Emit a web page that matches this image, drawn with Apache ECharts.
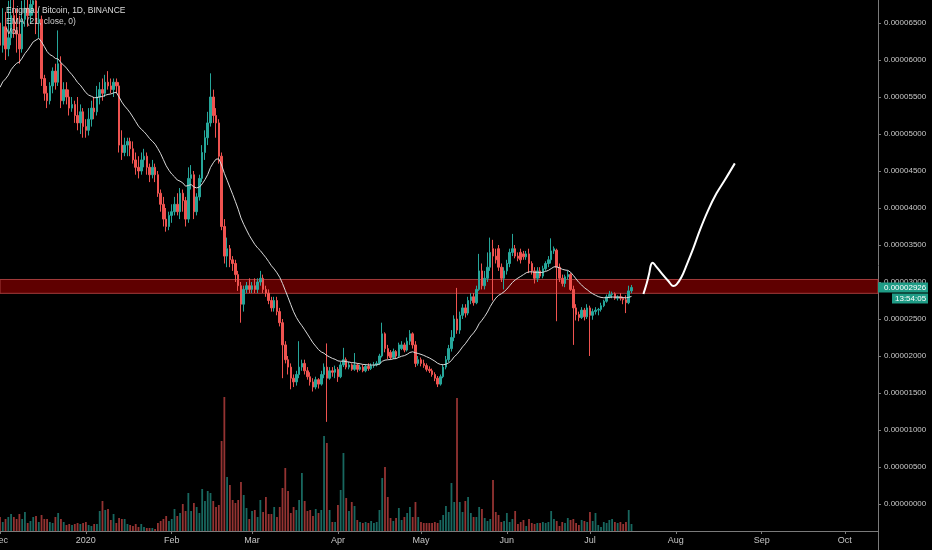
<!DOCTYPE html>
<html><head><meta charset="utf-8">
<script src="https://cdn.jsdelivr.net/npm/echarts@6/dist/echarts.min.js"></script>
<style>html,body{margin:0;padding:0;background:#000;}#c{width:932px;height:550px;}</style>
</head><body><div id="c"></div>
<script>
// Prices in satoshi (1e-8 BTC)
const startDate = '2019-12-01';
const dayCount = 318;
const xTickDates = ['2019-12-01','2020-01-01','2020-02-01','2020-03-01','2020-04-01','2020-05-01','2020-06-01','2020-07-01','2020-08-01','2020-09-01','2020-10-01'];
const xTickLabels = ['Dec','2020','Feb','Mar','Apr','May','Jun','Jul','Aug','Sep','Oct'];
const yTicks = [0,500,1000,1500,2000,2500,3000,3500,4000,4500,5000,5500,6000,6500];

const opens = [
6500,6200,6450,6150,6300,6600,6400,6350,6150,6550,
6700,6600,6750,6800,6500,6550,5750,5550,5450,5650,
5850,5700,5950,5450,5600,5500,5350,5400,5250,5150,
5300,5100,5050,5200,5350,5300,5500,5600,5550,5700,
5650,5600,5700,5650,4850,4750,4850,4900,4800,4650,
4550,4500,4650,4700,4550,4450,4550,4450,4200,4050,
3850,3750,3900,3950,4050,3950,4200,4100,3850,4400,
4450,3950,4150,4400,4750,4950,5150,5500,5250,5150,
4700,3750,3350,3450,3300,3250,3100,2950,2700,2900,
2950,2900,2950,2900,3000,3050,2900,2850,2750,2650,
2750,2600,2450,2150,1950,1850,1700,1650,1750,1850,
1900,1800,1720,1650,1580,1680,1620,1750,1850,1700,
1800,1780,1820,1720,1880,1950,1850,1880,1820,1880,
1820,1850,1800,1860,1830,1870,1880,1900,2000,2300,
2100,2050,1980,2060,2000,2100,2150,2080,2200,2300,
2150,1900,1950,1900,1870,1820,1800,1750,1700,1620,
1720,1850,1950,2100,2250,2500,2350,2550,2650,2580,
2750,2800,2720,2900,3150,2950,3050,3200,3450,3350,
3450,3200,3050,3150,3250,3400,3450,3350,3400,3380,
3340,3380,3250,3150,3050,3150,3080,3180,3250,3300,
3420,3430,3200,3050,2980,3070,3100,2900,2650,2560,
2520,2620,2530,2650,2550,2600,2620,2630,2680,2740,
2800,2830,2840,2780,2800,2780,2760,2720,2880];
const highs = [
6800,6700,6650,6800,6900,6850,6700,6600,6800,6950,
6950,7000,7100,7000,6700,6600,5800,5650,5700,5900,
5950,6400,6050,5700,5700,5600,5500,5450,5500,5400,
5350,5200,5350,5450,5500,5650,5700,5750,5800,5850,
5750,5750,5750,5700,5050,4950,4950,4950,4900,4750,
4700,4750,4800,4750,4600,4650,4600,4500,4250,4150,
4000,3950,4050,4150,4200,4270,4250,4150,4550,4580,
4500,4200,4450,4850,5050,5300,5820,5600,5350,5200,
4750,3850,3600,3500,3350,3300,3150,3000,2950,3000,
3050,3000,3050,3050,3150,3100,2950,2900,2800,2800,
2800,2650,2500,2200,2000,1900,1750,1800,2200,1950,
1950,1850,1780,1700,1720,1700,1800,1900,2170,1850,
1850,1870,1850,1920,2110,1980,1920,1900,2040,1900,
1880,1880,1890,1900,1900,1920,1930,2030,2450,2320,
2150,2080,2100,2080,2180,2200,2180,2250,2350,2320,
2200,2000,1980,1950,1900,1860,1830,1780,1730,1750,
1880,2000,2150,2350,2550,2920,2600,2700,2700,2800,
2850,2850,2950,3380,3250,3150,3400,3600,3570,3450,
3500,3250,3200,3300,3450,3650,3500,3400,3450,3420,
3420,3450,3280,3200,3200,3200,3220,3280,3350,3590,
3480,3450,3250,3100,3100,3150,3120,2950,2700,2600,
2660,2650,2700,2680,2640,2660,2650,2720,2760,2830,
2880,2870,2860,2820,2850,2800,2820,2950,2960];
const lows = [
6050,6100,6000,6050,6200,6300,6100,5950,6100,6450,
6450,6500,6600,6350,6300,5650,5450,5350,5400,5550,
5600,5650,5350,5400,5400,5250,5300,5150,5050,5000,
4950,4950,4980,5100,5200,5250,5400,5450,5500,5600,
5550,5500,5550,4750,4650,4700,4700,4700,4600,4450,
4400,4450,4550,4450,4350,4400,4350,4150,3950,3750,
3680,3700,3800,3900,3900,3850,3950,3750,3800,4250,
3850,3900,4100,4350,4650,4850,5100,5150,4950,4600,
3700,3250,3200,3200,3150,3000,2880,2450,2600,2850,
2850,2850,2850,2850,2950,2850,2800,2700,2600,2600,
2550,2400,1700,1900,1750,1550,1580,1600,1700,1800,
1750,1680,1600,1520,1550,1560,1600,1700,1110,1680,
1720,1700,1650,1700,1850,1820,1820,1800,1800,1780,
1800,1780,1780,1800,1810,1840,1860,1880,1980,2050,
1960,1950,1960,1970,1980,2080,2050,2060,2150,2100,
1850,1870,1860,1840,1790,1770,1720,1660,1580,1600,
1700,1820,1920,2060,2200,2300,2300,2500,2520,2550,
2700,2680,2700,2880,2900,2900,3000,3150,2750,3250,
3150,3000,2900,3100,3200,3350,3320,3280,3250,3300,
3300,3120,3100,2980,3000,3050,3050,3150,3200,3250,
3380,2470,3000,2940,2930,3030,2880,2150,2480,2470,
2500,2480,2500,2000,2490,2560,2550,2600,2660,2720,
2780,2780,2760,2750,2750,2700,2580,2700,2850];
const closes = [
6200,6450,6150,6300,6600,6400,6350,6150,6550,6700,
6600,6750,6800,6500,6550,5750,5550,5450,5650,5850,
5700,5950,5450,5600,5500,5350,5400,5250,5150,5300,
5100,5050,5200,5350,5300,5500,5600,5550,5700,5650,
5600,5700,5650,4850,4750,4850,4900,4800,4650,4550,
4500,4650,4700,4550,4450,4550,4450,4200,4050,3850,
3750,3900,3950,4050,3950,4200,4100,3850,4400,4450,
3950,4150,4400,4750,4950,5150,5500,5250,5150,4700,
3750,3350,3450,3300,3250,3100,2950,2700,2900,2950,
2900,2950,2900,3000,3050,2900,2850,2750,2650,2750,
2600,2450,2150,1950,1850,1700,1650,1750,1850,1900,
1800,1720,1650,1580,1680,1620,1750,1850,1700,1800,
1780,1820,1720,1880,1950,1850,1880,1820,1880,1820,
1850,1800,1860,1830,1870,1880,1900,2000,2300,2100,
2000,1980,2060,2000,2150,2150,2080,2200,2300,2150,
1900,1950,1900,1870,1820,1800,1750,1700,1620,1720,
1850,1950,2100,2250,2500,2350,2550,2650,2580,2750,
2800,2720,2900,3150,2950,3050,3200,3400,3350,3300,
3200,3050,3150,3250,3400,3450,3350,3320,3300,3340,
3380,3250,3150,3050,3150,3080,3180,3250,3300,3420,
3450,3200,3050,2980,3070,3100,2900,2650,2560,2520,
2620,2530,2650,2550,2600,2620,2630,2680,2740,2800,
2830,2840,2780,2800,2780,2760,2720,2880,2926];
const volumes = [
14,9,12,14,17,14,12,17,12,19,
8,10,14,15,9,16,12,12,9,8,
14,18,12,9,6,7,6,7,8,7,
8,9,6,5,7,7,20,30,21,22,
11,17,8,13,12,12,7,6,5,7,
4,7,4,3,3,3,2,8,10,12,
15,10,12,22,15,18,27,20,38,20,
28,24,18,42,30,40,38,30,24,26,
90,134,54,46,31,28,31,49,36,23,
12,20,21,14,31,19,34,17,17,24,
14,24,43,63,40,18,24,21,31,58,
30,20,21,15,22,18,21,95,88,21,
9,9,26,41,78,33,20,29,25,11,
9,8,9,8,10,8,9,21,53,64,
34,13,10,13,23,11,14,18,24,14,
29,14,9,8,8,8,8,9,8,11,
16,25,19,48,29,133,29,19,30,34,
18,14,14,24,22,13,10,12,51,19,
16,9,10,18,9,12,20,7,9,11,
5,12,8,7,8,8,9,8,9,20,
12,10,5,9,8,13,11,12,8,6,
11,10,9,19,10,18,6,4,9,8,
11,12,9,8,9,7,9,21,7];
const emaLength = 21;
const emaStart = 5630;
const zoneLow = 2847;
const zoneHigh = 3034;
// hand-drawn projection (day index from Dec 1, price)
const drawDays = [232.3,233.5,234.4,235.0,235.6,236.5,238.9,241.3,243.1,244.3,246.1,247.9,250.3,252.7,255.7,258.7,261.7,265.3];
const drawPrices = [2837,2982,3117,3229,3260,3229,3117,3013,2945,2968,3071,3229,3454,3702,3972,4198,4378,4603];
const titleLines = ['Enigma / Bitcoin, 1D, BINANCE','EMA (21, close, 0)','Vol'];
const timerText = '13:54:05';

const UP = '#26a69a', DOWN = '#ef5350';
const dates = [];
const t0 = Date.UTC(2019, 11, 1);
for (let i = 0; i < dayCount; i++) dates.push(new Date(t0 + i * 86400000).toISOString().slice(0, 10));

const candles = opens.map((o, i) => [o, closes[i], lows[i], highs[i]]);
const volData = volumes.map((v, i) => ({value: v, itemStyle: {color: closes[i] >= opens[i] ? 'rgba(38,166,154,0.62)' : 'rgba(239,83,80,0.62)'}}));
const k = 2 / (emaLength + 1);
const ema = [];
let e = emaStart;
for (let i = 0; i < closes.length; i++) { if (i > 0) e = e + k * (closes[i] - e); ema.push(Math.round(e)); }
const drawData = drawDays.map((d, i) => [d, drawPrices[i]]);

const chart = echarts.init(document.getElementById('c'), null, {renderer: 'canvas'});
const gridRight = 54, gridBottom = 19;
const option = {
  backgroundColor: '#000',
  animation: false,
  grid: {left: 0, right: gridRight, top: 0, bottom: gridBottom, containLabel: false, outerBoundsMode: 'none'},
  xAxis: [{
    type: 'category', data: dates, boundaryGap: false,
    axisLine: {show: true, onZero: false, lineStyle: {color: '#7a7a7a', width: 1}},
    axisTick: {show: true, length: 3, interval: (i, v) => xTickDates.includes(v), lineStyle: {color: '#7a7a7a'}},
    axisLabel: {interval: (i, v) => xTickDates.includes(v), formatter: v => xTickLabels[xTickDates.indexOf(v)] || '',
      color: '#c4c4c4', fontSize: 9, fontFamily: 'Liberation Sans, Arial, sans-serif', margin: 5},
    splitLine: {show: false}
  }, {
    type: 'value', min: 0, max: dayCount - 1, show: false, axisLine: {onZero: false}
  }],
  yAxis: [{
    type: 'value', position: 'right', min: -365, max: 6811, scale: true,
    axisLine: {show: true, onZero: false, lineStyle: {color: '#7a7a7a', width: 1}},
    axisTick: {show: true, length: 3, customValues: yTicks, lineStyle: {color: '#7a7a7a'}},
    axisLabel: {customValues: yTicks, formatter: v => (v / 1e8).toFixed(8), color: '#c8c8c8', fontSize: 8,
      fontFamily: 'Liberation Sans, Arial, sans-serif', margin: 6},
    splitLine: {show: false}
  }, {
    type: 'value', min: 0, max: 531, show: false, axisLine: {onZero: false}
  }],
  series: [{
    type: 'bar', name: 'Vol', xAxisIndex: 0, yAxisIndex: 1, data: volData, barWidth: 1.8, z: 2
  }, {
    type: 'candlestick', name: 'ENGBTC', xAxisIndex: 0, yAxisIndex: 0, data: candles, barWidth: 2, z: 3,
    itemStyle: {color: UP, color0: DOWN, borderColor: UP, borderColor0: DOWN, borderWidth: 1},
    markArea: {silent: true, z: 1,
      itemStyle: {color: 'rgba(112,0,0,0.85)', borderColor: '#a33a3a', borderWidth: 1},
      data: [[{yAxis: zoneLow}, {yAxis: zoneHigh}]]}
  }, {
    type: 'line', name: 'EMA', xAxisIndex: 0, yAxisIndex: 0, data: ema, symbol: 'none', z: 4,
    lineStyle: {color: '#d9d9d9', width: 1}
  }, {
    type: 'line', name: 'Drawing', xAxisIndex: 1, yAxisIndex: 0, data: drawData, symbol: 'none', smooth: 0.35, z: 5,
    lineStyle: {color: '#ffffff', width: 2}
  }]
};
chart.setOption(option);

const W = chart.getWidth(), H = chart.getHeight();
const axisX = W - gridRight;
const last = closes[closes.length - 1];
const py = chart.convertToPixel({yAxisIndex: 0}, last);
const font = '8px "Liberation Sans", Arial, sans-serif';
chart.setOption({
  graphic: [
    {type: 'line', shape: {x1: axisX + 0.5, y1: H - gridBottom, x2: axisX + 0.5, y2: H}, style: {stroke: '#7a7a7a', lineWidth: 1}, z: 10},
    {type: 'rect', shape: {x: axisX, y: py - 5, width: 50, height: 10}, style: {fill: '#1f9c86'}, z: 20},
    {type: 'text', x: axisX + 6, y: py, style: {text: (last / 1e8).toFixed(8), fill: '#ffffff', font: font, verticalAlign: 'middle'}, z: 21},
    {type: 'rect', shape: {x: axisX + 14, y: py + 6, width: 36, height: 10}, style: {fill: '#1f9c86'}, z: 20},
    {type: 'text', x: axisX + 17, y: py + 11, style: {text: timerText, fill: '#ffffff', font: font, verticalAlign: 'middle'}, z: 21},
    {type: 'text', x: 6, y: 11, style: {text: titleLines[0], fill: '#dcdcdc', font: '8.5px "Liberation Sans", Arial, sans-serif', verticalAlign: 'middle'}, z: 30},
    {type: 'text', x: 6, y: 22, style: {text: titleLines[1], fill: '#cfcfcf', font: '8.5px "Liberation Sans", Arial, sans-serif', verticalAlign: 'middle'}, z: 30},
    {type: 'text', x: 6, y: 32, style: {text: titleLines[2], fill: '#cfcfcf', font: '8.5px "Liberation Sans", Arial, sans-serif', verticalAlign: 'middle'}, z: 30}
  ]
});
</script>
</body></html>
